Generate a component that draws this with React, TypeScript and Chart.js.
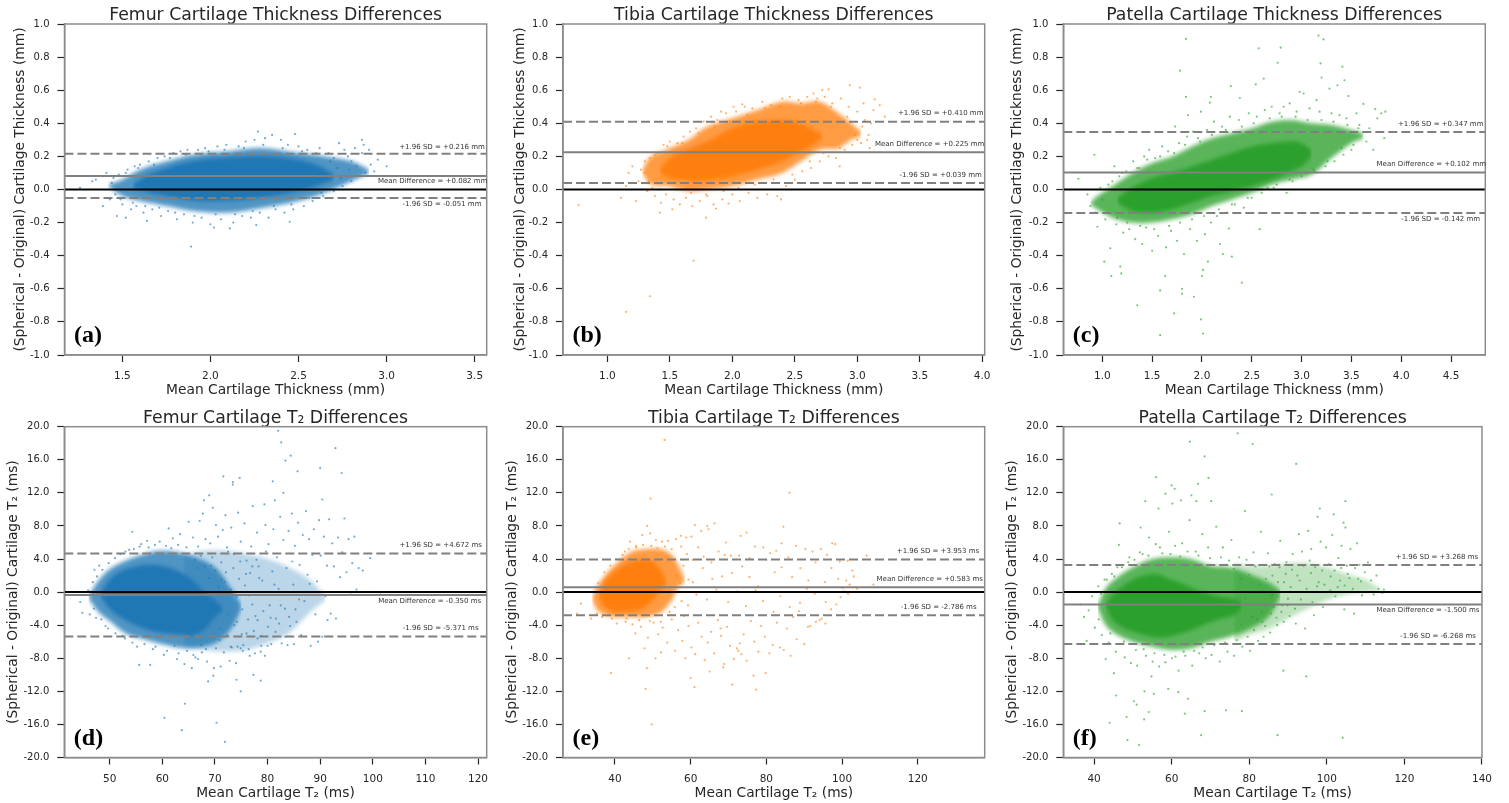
import React, { useEffect, useRef } from "react";
import { Chart, registerables } from "chart.js";

Chart.register(...registerables);

const BLUE = "31,119,180";
const ORANGE = "255,127,14";
const GREEN = "44,160,44";

const thicknessYTickValues = [-1, -0.8, -0.6, -0.4, -0.2, 0, 0.2, 0.4, 0.6, 0.8, 1];
const t2YTickValues = [-20, -16, -12, -8, -4, 0, 4, 8, 12, 16, 20];
const femurThickXTicks = [1.5, 2, 2.5, 3, 3.5];
const tibiaThickXTicks = [1, 1.5, 2, 2.5, 3, 3.5, 4];
const patellaThickXTicks = [1, 1.5, 2, 2.5, 3, 3.5, 4, 4.5];
const femurT2XTicks = [50, 60, 70, 80, 90, 100, 110, 120];
const tibiaT2XTicks = [40, 60, 80, 100, 120];
const patellaT2XTicks = [40, 60, 80, 100, 120, 140];

// ---------- (a) Femur thickness ----------
const femurThickCoreX = [1.56, 1.65, 1.75, 1.85, 1.95, 2.05, 2.2, 2.35, 2.5, 2.6, 2.7];
const femurThickCoreTop = [0.03, 0.09, 0.13, 0.16, 0.18, 0.19, 0.2, 0.2, 0.18, 0.15, 0.09];
const femurThickCoreBottom = [0.01, -0.02, -0.04, -0.06, -0.07, -0.07, -0.06, -0.04, -0.01, 0.02, 0.06];
const femurThickHaloX = [1.42, 1.5, 1.6, 1.75, 1.9, 2.1, 2.3, 2.5, 2.65, 2.8, 2.9];
const femurThickHaloTop = [0.03, 0.06, 0.12, 0.17, 0.21, 0.23, 0.25, 0.22, 0.2, 0.17, 0.12];
const femurThickHaloBottom = [0.02, -0.04, -0.07, -0.1, -0.13, -0.14, -0.11, -0.07, -0.02, 0.05, 0.1];
const femurThickPoints = [
  [1.26,.01],[1.33,.05],[1.35,.06],[1.39,.08],[1.39,-.10],[1.47,-.16],[1.52,-.17],[1.64,-.19],[1.89,-.345],[2.27,.35],[2.48,.335],[2.86,.30],[3.0,.14],[2.95,.18],[2.02,-.23],[2.11,-.235],[2.26,-.215],[2.45,-.195],
  [1.41,.10],[1.44,.04],[1.46,-.03],[1.43,-.06],[1.48,.09],[1.5,-.09],[1.53,.12],[1.55,-.12],[1.57,.14],[1.58,-.1],[1.6,.15],[1.62,-.14],[1.65,.17],[1.67,-.12],[1.7,.19],[1.72,-.16],[1.74,.2],[1.76,-.13],[1.79,.22],[1.81,-.18],[1.83,.23],[1.85,-.15],[1.87,.24],[1.9,-.2],[1.93,.24],[1.95,-.17],[1.97,.25],[2.0,-.21],[2.04,.26],[2.06,-.18],[2.09,.27],[2.13,-.2],[2.16,.26],[2.18,-.16],[2.2,.29],[2.23,-.17],[2.25,.3],[2.28,-.14],[2.31,.31],[2.33,-.17],[2.35,.33],[2.37,-.12],[2.4,.3],[2.42,-.14],[2.44,.27],[2.47,-.12],[2.5,.26],[2.53,-.1],[2.55,.24],[2.58,-.07],[2.62,.25],[2.64,-.04],[2.67,.22],[2.7,-.01],[2.73,.28],[2.75,.02],[2.78,.2],[2.8,.05],[2.82,.25],[2.84,.08],[2.87,.27],[2.88,.1],[2.91,.15],[2.93,.11],[2.76,.24],[2.68,.17],[2.72,.13],[2.86,.22],[2.8,.17],[2.9,.24],
  [1.45,.07],[1.49,-.06],[1.52,.1],[1.56,-.08],[1.59,.13],[1.63,-.1],[1.68,.15],[1.71,-.11],[1.77,.19],[1.8,-.14],[1.86,.21],[1.91,-.16],[1.99,.23],[2.03,-.15],[2.08,.24],[2.14,-.15],[2.19,.25],[2.24,-.13],[2.3,.27],[2.36,-.1],[2.41,.25],[2.46,-.09],[2.52,.23],[2.56,-.05],[2.6,.22],[2.63,-.02],[2.7,.19],[2.74,.07],[2.79,.12],[2.83,.14]
];

// ---------- (b) Tibia thickness ----------
const tibiaThickCoreX = [1.42, 1.5, 1.6, 1.7, 1.85, 2.0, 2.2, 2.4, 2.5, 2.6, 2.72];
const tibiaThickCoreTop = [0.12, 0.19, 0.23, 0.26, 0.31, 0.37, 0.41, 0.42, 0.41, 0.38, 0.33];
const tibiaThickCoreBottom = [0.1, 0.07, 0.06, 0.05, 0.06, 0.08, 0.12, 0.17, 0.21, 0.25, 0.31];
const tibiaThickHaloX = [1.28, 1.35, 1.5, 1.65, 1.8, 2.0, 2.2, 2.4, 2.55, 2.7, 2.85, 2.95, 3.03];
const tibiaThickHaloTop = [0.12, 0.2, 0.25, 0.3, 0.38, 0.43, 0.48, 0.53, 0.52, 0.53, 0.46, 0.4, 0.35];
const tibiaThickHaloBottom = [0.1, 0.03, 0.02, -0.01, 0, 0.02, 0.06, 0.1, 0.17, 0.24, 0.25, 0.3, 0.32];
const tibiaThickPoints = [
  [.77,-.095],[1.15,-.74],[1.34,-.645],[1.69,-.43],[1.79,-.17],[1.11,-.05],[1.23,-.07],[1.15,.02],[1.17,.1],[1.2,.14],[1.42,-.14],[1.52,-.12],[2.94,.63],[3.02,.615],[3.14,.545],[3.18,.51],[3.22,.44],[3.1,.25],[2.86,.14],[2.77,.605],[2.65,.58],[2.72,.6],[2.01,.5],[2.08,.515],[1.91,.47],[2.39,-.06],[1.97,-.085],[1.87,-.115],
  [1.25,.05],[1.27,.12],[1.3,.17],[1.32,-.01],[1.34,.19],[1.36,.01],[1.38,-.04],[1.4,.22],[1.43,-.08],[1.45,.27],[1.47,-.03],[1.5,.29],[1.53,-.06],[1.56,.28],[1.58,-.09],[1.61,.32],[1.63,-.05],[1.66,.35],[1.68,-.1],[1.71,.37],[1.74,-.07],[1.77,.41],[1.8,-.04],[1.83,.44],[1.85,-.09],[1.88,.42],[1.92,-.06],[1.95,.46],[2.0,-.03],[2.03,.47],[2.06,-.07],[2.1,.5],[2.13,-.02],[2.16,.49],[2.2,-.05],[2.24,.53],[2.28,-.03],[2.31,.51],[2.36,-.04],[2.4,.55],[2.43,.02],[2.46,.56],[2.5,.06],[2.53,.54],[2.56,.11],[2.6,.56],[2.63,.13],[2.67,.53],[2.7,.17],[2.74,.56],[2.77,.2],[2.8,.52],[2.83,.19],[2.87,.55],[2.9,.24],[2.93,.5],[2.96,.27],[3.0,.47],[3.03,.28],[3.06,.42],[3.09,.33],[3.11,.4],[3.13,.48],[2.98,.33],[3.05,.52],
  [1.3,.1],[1.33,.05],[1.38,.21],[1.42,.0],[1.48,.26],[1.55,.0],[1.6,.28],[1.67,-.02],[1.73,.34],[1.79,-.03],[1.86,.38],[1.93,-.01],[1.98,.41],[2.05,.01],[2.12,.45],[2.18,.03],[2.26,.49],[2.33,.06],[2.38,.5],[2.48,.09],[2.55,.52],[2.62,.17],[2.68,.55],[2.73,.22],[2.79,.5],[2.86,.25],[2.92,.44],[3.0,.3],[3.04,.38],[3.08,.3]
];

// ---------- (c) Patella thickness ----------
const patellaThickCoreX = [1.15, 1.3, 1.5, 1.7, 1.9, 2.1, 2.3, 2.5, 2.7, 2.9, 3.0, 3.1];
const patellaThickCoreTop = [-0.05, 0.01, 0.07, 0.1, 0.14, 0.18, 0.22, 0.26, 0.28, 0.29, 0.28, 0.24];
const patellaThickCoreBottom = [-0.08, -0.13, -0.14, -0.12, -0.08, -0.04, -0.01, 0.02, 0.06, 0.11, 0.14, 0.2];
const patellaThickHaloX = [0.88, 0.95, 1.1, 1.3, 1.5, 1.7, 1.9, 2.1, 2.3, 2.5, 2.7, 2.9, 3.1, 3.3, 3.5, 3.62];
const patellaThickHaloTop = [-0.08, -0.04, 0.02, 0.1, 0.16, 0.2, 0.26, 0.31, 0.34, 0.37, 0.41, 0.42, 0.4, 0.39, 0.36, 0.34];
const patellaThickHaloBottom = [-0.09, -0.12, -0.17, -0.2, -0.2, -0.18, -0.15, -0.1, -0.06, -0.02, 0.03, 0.06, 0.09, 0.19, 0.28, 0.31];
const patellaThickPoints = [
  [1.84,.91],[3.17,.93],[3.22,.907],[2.57,.853],[2.79,.857],[2.76,.766],[3.19,.762],[3.41,.742],[2.62,.67],[3.2,.676],[3.43,.66],[1.78,.718],[2.29,.625],[1.84,.56],[2.09,.56],[2.08,.525],[2.54,.635],[2.38,.553],[1.99,.47],[1.86,.45],[.92,.21],[.76,.065],[.95,-.225],[1.08,-.355],[1.02,-.436],[1.09,-.523],[1.19,-.507],[1.18,-.466],[1.35,-.7],[1.72,-.748],[1.58,-.88],[1.99,-.785],[2.01,-.87],[1.58,-.61],[1.8,-.6],[1.8,-.63],[1.92,-.648],[1.63,-.523],[2.4,-.563],[2,-.523],[2.01,-.486],[2.06,-.436],[2.21,-.39],[2.3,-.406],[2.18,-.33],[2.27,-.236],[2.58,-.24],[3.84,.47],[3.74,.486],[3.62,.517],[3.47,.565],[3.83,.31],
  [.85,-.03],[.88,-.1],[.93,-.14],[.98,.01],[1.03,-.18],[1.06,.03],[1.12,.14],[1.14,-.21],[1.17,.08],[1.21,-.26],[1.24,.11],[1.27,-.24],[1.31,.17],[1.33,-.3],[1.37,.13],[1.4,-.33],[1.42,.2],[1.44,-.23],[1.47,.24],[1.5,-.37],[1.53,.19],[1.56,-.28],[1.6,.26],[1.64,-.35],[1.66,.23],[1.69,-.25],[1.73,.38],[1.75,-.31],[1.77,.28],[1.82,-.39],[1.85,.32],[1.88,-.24],[1.91,.35],[1.95,-.31],[1.98,.29],[2.03,-.27],[2.05,.36],[2.09,-.2],[2.12,.41],[2.15,-.16],[2.2,.38],[2.25,-.14],[2.28,.44],[2.33,-.09],[2.37,.42],[2.42,-.11],[2.47,.46],[2.5,-.05],[2.55,.44],[2.6,-.02],[2.63,.48],[2.66,.01],[2.7,.5],[2.75,.03],[2.78,.46],[2.82,.5],[2.85,-.02],[2.88,.52],[2.91,.05],[2.95,.47],[2.98,.59],[3.02,.58],[3.05,.1],[3.08,.49],[3.12,.12],[3.15,.54],[3.18,.47],[3.24,.14],[3.28,.61],[3.3,.46],[3.33,.17],[3.36,.63],[3.38,.45],[3.42,.21],[3.45,.43],[3.5,.24],[3.55,.46],[3.58,.39],[3.65,.29],[3.68,.37],[3.72,.24],[3.76,.43],[3.8,.46],
  [1.0,-.06],[1.05,-.14],[1.1,.05],[1.15,-.17],[1.2,.1],[1.25,-.2],[1.35,.13],[1.38,-.22],[1.45,.18],[1.52,-.24],[1.58,.2],[1.67,-.22],[1.72,.22],[1.78,-.2],[1.83,.27],[1.9,-.18],[1.96,.31],[2.02,-.16],[2.1,.33],[2.17,-.12],[2.24,.36],[2.3,-.09],[2.4,.38],[2.46,-.05],[2.52,.4],[2.6,0],[2.68,.43],[2.72,.01],[2.8,.44],[2.88,.06],[2.94,.44],[3.0,.08],[3.06,.42],[3.13,.11],[3.2,.42],[3.26,.17],[3.32,.41],[3.4,.25],[3.46,.39],[3.52,.27],[3.57,.37]
];

// ---------- (d) Femur T2 ----------
const femurT2CoreX = [48.2, 50, 52, 55, 58, 61, 64, 66, 68, 70, 71.5];
const femurT2CoreTop = [-0.2, 1.5, 2.5, 3.1, 3.3, 3, 2.2, 1.3, 0, -1, -1.9];
const femurT2CoreBottom = [-0.5, -2, -3, -4, -4.7, -5, -5.2, -5.2, -4.5, -3, -2.2];
const femurT2HaloX = [46, 48, 50, 53, 56, 60, 65, 70, 73, 75];
const femurT2HaloTop = [-0.4, 1.5, 2.8, 3.8, 4.5, 5, 4.5, 3, 0.5, -1.5];
const femurT2HaloBottom = [-0.8, -2.5, -3.5, -5, -5.6, -6.3, -6.8, -6.2, -4.5, -2];
const femurT2TailX = [64, 68, 72, 76, 80, 84, 88, 91];
const femurT2TailTop = [4.5, 5, 5, 4.6, 4, 3, 1.5, -0.5];
const femurT2TailBottom = [-6.5, -7, -7.2, -7, -6.2, -5, -2.5, -1];
const femurT2Points = [
  [82,19.5],[82.6,18.1],[84.4,16.5],[83.4,15.9],[92.9,17.4],[85.7,14.6],[90,15],[94.1,14.4],[71.6,14],[74.7,13.8],[73.4,13.3],[73.4,13],[81,13.4],[83,12],[81.4,11.1],[90.4,11.2],[68.9,11.7],[67.9,11.1],[69.6,10.2],[64.3,-13.5],[60.4,-15.2],[70.3,-15.8],[63.7,-16.7],[71.9,-18.1],[74.9,-12],[74.1,-10.6],[78.7,-10.7],[77.3,-10],[68.7,-10.8],[69.7,-10.1],[54.3,7.3],[55.6,-8.8],[57.7,-8.8],[65.6,-9.2],
  [44.4,-1.2],[44.8,-2.5],[45.9,.2],[46.2,-2.7],[47.1,2.7],[47.4,-3.1],[48,3.2],[49.2,-4.1],[51,4.1],[52.4,-5.3],[53.7,5.1],[55.2,-6.6],[56,5.8],[57.1,6.2],[58.2,-6.9],[59.5,6.1],[60.3,-7.6],[61.2,7.7],[62,6.5],[62.8,-8.1],[63.4,7],[64.2,-8.7],[65,8.5],[65.8,6.6],[66.3,-7.9],[67.1,8.6],[67.7,9.5],[68.2,6.4],[68.5,-8.4],[69.1,5.9],[69.8,-9.2],[70.2,8.1],[70.6,6.7],[71.1,-9],[71.5,7.5],[72,9.3],[72.3,5.4],[72.8,-8.3],[73.1,7.8],[73.6,4.6],[74,-8.6],[74.4,9.6],[74.9,6.1],[75.3,-7.1],[75.6,8.3],[76,3.8],[76.4,-6.9],[76.9,5.5],[77.2,10.4],[77.6,-7.4],[78,7.2],[78.3,3.1],[78.7,-7.2],[79,1.4],[79.4,10.6],[79.6,8.1],[80,-6.5],[80.2,5.8],[80.6,-3.1],[80.9,2.5],[81.1,7.6],[81.5,-4.8],[81.8,4.2],[82.1,.4],[82.4,9.1],[82.7,-6.2],[83,6.3],[83.3,-2],[83.6,2.9],[84,7.4],[84.3,-4.1],[84.6,9.5],[84.9,.9],[85.2,5.6],[85.5,-3.6],[85.8,8.4],[86.1,3.3],[86.4,-5.2],[86.7,6.9],[87,-1.1],[87.3,9.8],[87.6,2.1],[87.9,6.4],[88.2,-6.5],[88.5,4.5],[88.8,7.6],[89.1,-2.7],[89.4,1.3],[89.8,8.7],[90.1,4.4],[90.4,-5.4],[90.7,6.7],[91,-.5],[91.3,3.2],[91.7,8.8],[92,-2.6],[92.3,5.9],[92.6,3.1],[93,-3.2],[93.4,6.6],[93.8,1.8],[94.2,4.8],[94.6,8.9],[95,2.4],[95.4,6.4],[95.8,-.3],[96.1,3.5],[96.5,6.7],[96.9,.3],[97.3,2.9],[98.1,2.6],[99.5,4.1],
  [66.2,3.9],[67.4,-6.4],[69.3,3.2],[70.9,-5.8],[72.1,2.4],[73.2,-6.7],[74.6,1.6],[75.1,-5.1],[76.3,-3.3],[77.1,-1.5],[78.1,-5.6],[79.2,-2.3],[75.7,.8],[74.2,-3.6],[72.6,-2.7],[71.3,1.5],[77.9,3.9],[76.7,2.3],[80.4,-1.6],[79.7,4.9],[83.8,-6.4],[86,-.9],[82.2,-3.8],[88,1],[84.7,3.7],[81.3,.9],[89.6,-6],[91.4,-3.4],[85,-6.3],[78.9,-5.3],
  [66.7,2.9],[67.3,4.4],[68.1,3.1],[68.9,1.7],[69.5,4.2],[70.1,2.6],[70.7,.6],[71.2,3.6],[71.8,1.2],[72.5,4.9],[73,.3],[73.5,2.9],[74.1,-.6],[74.8,3.7],[75.2,-2.1],[75.9,2.2],[76.5,-.4],[77.1,3.1],[77.7,-2.9],[78.4,1.7],[69.4,-5.4],[70.2,-6.8],[71,-4.4],[71.7,-7.3],[72.3,-5.2],[73,-6.6],[73.7,-4],[74.3,-6.6],[74.9,-6.8],[75.4,-6.4],[76,-5],[76.6,-7.7],[77.4,-4.7],[78.1,-3.4],[78.8,-6.5],[79.5,-7.7],[80.1,-4.2],[80.7,-6.3],[81.6,-3.2],[82.5,-1.6],[83.4,-5.4],[84.1,-3],[85.3,-2.1],[60.9,-7.1],[62.3,-6.5],[63.1,-7.4],[64.7,-7.1],[65.9,-7.6],[66.8,-8.1],[67.5,-7.3],[68.3,-6.9],[52,4.6],[53,4.9],[54.6,5.2],[55.7,5.5],[57.4,5.4],[58.6,5.7],[60.7,5.6],[61.7,5.3],[63,5.7],[64.6,5.4],[66.8,5.5],[47.6,1.9],[48.6,2.7],[49.8,3.5],[46.8,1.2],[47,-2],[48.4,-3.3],[49.7,-4.4],[51.1,-5],[52.9,-5.6],[54.3,-6.1],[56.6,-6.3],[58.7,-6.6]
];

// ---------- (e) Tibia T2 ----------
const tibiaT2CoreX = [35.8, 37, 38, 40, 42, 44, 46, 48, 50, 52, 53.5];
const tibiaT2CoreTop = [-0.3, 1, 1.7, 2.5, 3.2, 3.6, 3.9, 3.9, 3.7, 2.7, 1.5];
const tibiaT2CoreBottom = [-0.7, -1.7, -2, -2.4, -2.4, -2.3, -2.2, -1.8, -1, 0.2, 0.9];
const tibiaT2HaloX = [34, 35, 37, 40, 44, 48, 52, 55, 57, 58.5];
const tibiaT2HaloTop = [-0.6, 0.5, 1.8, 3.3, 4.8, 5.2, 5.2, 4.5, 3, 1.5];
const tibiaT2HaloBottom = [-1, -2, -2.7, -3, -3, -3, -2.5, -1, 0.8, 1.2];
const tibiaT2Points = [
  [53.1,18.4],[49.4,11.3],[86.1,12],[49.7,-16],[48.1,-11.7],[38.9,-9.8],[48.4,-9.2],[43.7,-8],[50.7,-8],[31,-1.4],[30,-2.6],[33.7,-3.2],[84.5,7.9],[66.3,8.3],[61.1,8.1],[64.4,8],[74.8,7.2],[73.2,6.8],[69.3,6],[84,5.9],[97.4,5.9],[106.5,4.4],[108.3,.9],[105.6,0],[61,-11.5],[60,-10.4],[71,-11.2],[77.3,-11.8],[79.8,-9.8],[76.6,-10.1],[65,-9.6],[68.6,-9.1],[90,-6.3],[88,-5.7],[86.4,-7.7],
  [44,6.1],[47.2,6.9],[48.5,8],[49.3,7.1],[45.5,5.6],[42.6,4.9],[50.8,6.3],[52.4,6.1],[54,6.2],[56.1,6.4],[57.4,6.8],[58.8,6.6],[60.2,6.7],[62,5.4],[59,4.6],[57.5,5.5],[60.5,3.9],[63.4,4.3],[65.5,3.6],[62.8,7.4],[64.7,7.6],[67.4,4.9],[69,4.5],[70.6,4.4],[72.8,4.4],[75.6,4.1],[77,5.5],[79.2,5.4],[81,4.7],[82.6,5],[85.8,4.2],[87.8,5.6],[90.3,5.2],[92.2,4.9],[94.4,5.2],[96,4.5],[98.2,5.8],[99.4,3.7],[101.5,3.8],[102.7,2.6],[60.6,1.2],[63.2,2.9],[65.7,1.6],[68.3,1.9],[70.9,2.3],[73.6,3.1],[75.5,1.8],[77.8,.7],[80,3.9],[82.2,2.4],[84,3],[86.8,1.8],[89,2.9],[91.1,1.4],[93,3.6],[95.5,1.2],[97.2,2.9],[99,1.6],[100.2,.5],[101.1,1.4],[102,.9],[103.1,1.9],[104,.4],[101.6,-.2],[100.6,.1],[99.6,-.6],[98.5,-1.5],[97.1,-2.1],[95.7,-1.2],[94.1,-3.4],[92.8,-.2],[91.6,-4.1],[90.7,.4],[88.9,-1.3],[86.2,-1.8],[83.7,-.5],[81.9,-2.4],[79.1,-1.1],[77.2,.2],[74.6,-1.7],[72.4,.1],[69.9,-1.2],[66.8,.3],[64.3,-.9],[61.5,-.3],[59.3,-1.6],[58.2,-2.9],
  [50.2,-3.7],[51.4,-5.1],[52.6,-4.3],[53.8,-6.1],[55,-3.3],[55.9,-7.1],[56.7,-4.6],[57.8,-5.9],[58.6,-8],[59.4,-4.1],[60.2,-6.7],[61.2,-7.5],[62,-3.7],[62.9,-5.4],[63.7,-8.2],[64.5,-6.1],[65.4,-4.8],[66.2,-7.4],[67.2,-3.4],[68,-5.3],[68.8,-8.7],[69.6,-4.2],[70.4,-6.5],[71.4,-8.1],[72.2,-6.8],[73.4,-7.5],[74,-5.1],[74.8,-8.3],[75.9,-3.5],[76.8,-6],[77.9,-7.2],[78.6,-4.1],[79.6,-5.4],[80.8,-7.4],[81.7,-6.4],[82.8,-3.7],[83.6,-6.7],[84.6,-7],[85.4,-4.4],[87.1,-3],[88.6,-2.3],[91,-4.2],[93.1,-3.6],[94.6,-3.2],[95.6,-3.8],[73,-6.2],[72.6,-7.1],[67.9,-4.4],[48.7,-5.5],[46.9,-4.2],[45.4,-5],[44.6,-3.9],[42.8,-3.6],[40.5,-3.8],[47.8,-6.8],[52.2,-7.3],
  [56.3,2],[57.2,1.1],[58.1,3.2],[59.4,1.5],[52.1,-3.6],[54.4,-2.4],[55.8,-1.8],[57.6,-1.1],[49.2,-3.5],[46.4,-3.4],[43.1,-3.2],[39.2,-3.2],[36.6,-3],[35.2,-2.6],[35.6,1.1],[37.2,2.4],[38.8,3.2],[40.4,4],[42,4.5],[43.6,5.2],[45.6,5.4],[47.4,5.7],[49.6,5.6],[51.2,5.3],[53.2,5.5],[55,5.2]
];

// ---------- (f) Patella T2 ----------
const patellaT2CoreX = [43, 45, 47, 50, 53, 56, 60, 64, 68, 72, 76, 78];
const patellaT2CoreTop = [-1.4, -0.2, 0.6, 1.5, 2, 2.2, 1.5, 0.8, 0, -0.5, -0.8, -1.2];
const patellaT2CoreBottom = [-1.8, -3.5, -4.2, -4.8, -5.2, -5.5, -5.3, -4.8, -4, -3.3, -2.8, -2];
const patellaT2HaloX = [41, 43, 46, 50, 55, 60, 65, 70, 75, 80, 85, 88];
const patellaT2HaloTop = [-1.6, 0.5, 1.8, 3, 4, 4.2, 4, 3.2, 3, 2.2, 1.2, 0.2];
const patellaT2HaloBottom = [-2, -4, -5.2, -6, -6.6, -7, -6.8, -6, -5.4, -4.5, -3, -0.6];
const patellaT2TailX = [76, 80, 85, 90, 95, 100, 105, 110, 114];
const patellaT2TailTop = [3.5, 3.2, 3.2, 3.5, 3.5, 3, 2.2, 1.5, 0.3];
const patellaT2TailBottom = [-6, -5.2, -4.5, -3.2, -2, -1, -0.3, 0, 0.1];
const patellaT2Points = [
  [65.2,20],[77,19.2],[64.7,18.2],[80.9,17.9],[68.5,16.4],[92.1,15.5],[56,13.9],[69.5,13.8],[66.8,13.1],[60,12.9],[60.8,12.5],[58.4,11.9],[65.1,11.7],[85.8,11.8],[62.4,11.1],[53.2,11],[60.2,10.7],[66.4,11],[70.2,11],[104.8,11],[56.6,10.1],[78.9,9.8],[98.2,10.1],[101.8,9.4],[46.6,8.3],[52,7.8],[104.8,7.8],[104.3,8.4],
  [43,-8.1],[45.1,-9.8],[45.7,-12.5],[44,-15.8],[48.6,-17.9],[51.6,-18.5],[48.4,-15.1],[50.3,-13.2],[51,-13.6],[52.9,-15.4],[54.1,-14.5],[63.4,-14.7],[68.5,-14.4],[74,-14.3],[78.1,-14.4],[67.6,-17.3],[87.3,-17.3],[104.1,-17.6],[94.7,-10.2],[88.8,-9.5],[64.2,-12.9],[61.7,-12.1],[59.1,-11.7],[55.4,-12.3],[53,-12],[54.8,-10.2],
  [36.5,-1.5],[37.4,-3],[38.6,-2.2],[38.1,-5.9],[39.5,-.5],[40.2,-4.3],[41.1,.7],[42,-5.2],[42.7,1.5],[43.8,-6.1],[44.6,2.2],[45.6,-7.2],[46.4,5.7],[47.2,3],[47.9,-7.9],[48.8,3.6],[49.5,-8.6],[50.4,3.9],[51.1,-8.9],[52.5,4.6],[53.4,-7.7],[54.2,6.6],[55.1,-8.4],[55.9,5.8],[56.8,-9],[57.6,4.7],[58.4,-8.5],[59.3,7.3],[60.1,-8],[60.9,5.6],[61.8,-9.5],[62.7,5.9],[63.5,-7.7],[64.6,8.7],[65.3,-8.9],[66.2,4.9],[67.1,-7.4],[67.9,7],[68.8,-8],[69.4,5.4],[70.3,-7.6],[71.5,7.9],[72.4,-8.4],[73.2,5.4],[74.4,-7.2],[75.4,6.3],[76.1,-7.7],[77.4,4.2],[78.2,-6.6],[79.3,3.9],[80.2,-7.1],[81.1,4.8],[82.3,-5.9],[83,7.3],[83.7,-5.4],[84.8,4.7],[85.4,-4.9],[86.6,3.4],[87.2,-4],[88,6.2],[88.9,-3.6],[89.6,3.6],[90.4,-2.9],[91.2,4.6],[92,-3.8],[92.8,7],[93.6,4.9],[94.4,-4.4],[95.2,7.4],[96,5.2],[96.7,-2.8],[97.6,9.1],[98.4,6.1],[99,-1.8],[99.8,5.4],[100.6,3.4],[101.4,6.9],[102.2,-.5],[103,4.1],[103.8,5.6],[104.5,-2.1],[105.2,3.2],[106.1,5.2],[107,-2.6],[107.8,5.9],[108.4,3.3],[109.1,-.4],[109.8,2.4],[110.6,3.6],[111.4,1.4],[112.1,-.3],[112.8,2],[113.3,.4],[114.3,-.1],[114.7,.3],[95.6,3.8],[97.9,1.2],[101,1.9],[103.4,1.4],[105.8,1.7],[108.1,1.6],[93,1.4],[90.7,.6],[86.3,-1.8],[83.2,-2.4],[80.8,-3],[86,2],[89,1.2],
  [76,2.8],[77.8,1.6],[79,-.7],[80,2.1],[81.6,3.1],[82.6,.9],[83.4,-3.6],[84.3,1.6],[85.2,3.1],[85.9,-.4],[87.4,1.2],[87.8,3],[88.5,-1.6],[89.4,2.2],[90,-.8],[91,2.7],[91.8,-2],[92.4,2],[93.3,-.9],[94,3.2],[94.8,.4],[95.9,2.3],[96.3,-1.2],[97,3],[97.5,.7],[98.8,2.6],[99.4,.9],[100.1,3.3],[100.9,.2],[102,2.6],[102.8,.6],[103.7,2.9],[104.6,.8],[105.4,2.2],[106.7,.4],[107.3,2.9],[108.8,1.3],[78,-3.9],[79.6,-5.4],[81.2,-4.6],[82,-3.3],[84.1,-4.1],[85.6,-2.6],[87,-3.1],[88.3,-2.4],[89.9,-1.6],[46,3],[47.7,-6],[49.1,4.2],[50.8,-7],[51.8,4.8],[52.8,-6.9],[54,4.4],[55.6,-7.4],[57,5.4],[58.1,-7.6],[59.7,4.6],[61,-7.8],[62.2,4.3],[63.1,-7.2],[64.1,4.9],[65.8,-7.1],[66.9,4.4],[68,-6.7],[69.9,4.1],[71,-6.4],[72.7,4.2],[73.8,-6.1],[74.8,3.8],[76.8,-5.8],[41.8,-.2],[41.2,-3.3],[43.3,1.5],[44.2,-5],[45.2,1.9]
];

const meanLabel = "Mean Difference = ";
const upperLabel = "+1.96 SD = ";
const lowerLabel = "-1.96 SD = ";
const thicknessYTitle = "(Spherical - Original) Cartilage Thickness (mm)";
const t2YTitle = "(Spherical - Original) Cartilage T₂ (ms)";
const thicknessXTitle = "Mean Cartilage Thickness (mm)";
const t2XTitle = "Mean Cartilage T₂ (ms)";
const noValues: number[] = [];

const panels = [
  { left: 0, top: 0, plotL: 64.5, plotR: 486.7, plotT: 24, plotB: 355, yT: 20, title: "Femur Cartilage Thickness Differences", xt: thicknessXTitle, yt: thicknessYTitle, tag: "(a)", rgb: BLUE, unit: "mm",
    xMin: 1.172, xMax: 3.568, xTicks: femurThickXTicks, yTicks: thicknessYTickValues, xDec: 1, yMax: 1, mean: 0.082, up: 0.216, low: -0.051, meanS: "+0.082", upS: "+0.216", lowS: "-0.051",
    upO: [-44.7, -7], meanO: [-54, 5.7], lowO: [-44.7, 6],
    coreX: femurThickCoreX, coreTop: femurThickCoreTop, coreBottom: femurThickCoreBottom, haloX: femurThickHaloX, haloTop: femurThickHaloTop, haloBottom: femurThickHaloBottom, tailX: noValues, tailTop: noValues, tailBottom: noValues, pts: femurThickPoints },
  { left: 500, top: 0, plotL: 563, plotR: 984.7, plotT: 24, plotB: 355, yT: 20, title: "Tibia Cartilage Thickness Differences", xt: thicknessXTitle, yt: thicknessYTitle, tag: "(b)", rgb: ORANGE, unit: "mm",
    xMin: 0.645, xMax: 4.02, xTicks: tibiaThickXTicks, yTicks: thicknessYTickValues, xDec: 1, yMax: 1, mean: 0.225, up: 0.41, low: 0.039, meanS: "+0.225", upS: "+0.410", lowS: "+0.039",
    upO: [-44, -8], meanO: [-55, -8], lowO: [-44, -8],
    coreX: tibiaThickCoreX, coreTop: tibiaThickCoreTop, coreBottom: tibiaThickCoreBottom, haloX: tibiaThickHaloX, haloTop: tibiaThickHaloTop, haloBottom: tibiaThickHaloBottom, tailX: noValues, tailTop: noValues, tailBottom: noValues, pts: tibiaThickPoints },
  { left: 1000, top: 0, plotL: 1063.3, plotR: 1485.3, plotT: 24, plotB: 355, yT: 17, title: "Patella Cartilage Thickness Differences", xt: thicknessXTitle, yt: thicknessYTitle, tag: "(c)", rgb: GREEN, unit: "mm",
    xMin: 0.608, xMax: 4.844, xTicks: patellaThickXTicks, yTicks: thicknessYTickValues, xDec: 1, yMax: 1, mean: 0.102, up: 0.347, low: -0.142, meanS: "+0.102", upS: "+0.347", lowS: "-0.142",
    upO: [-44.6, -8], meanO: [-54, -8], lowO: [-44.6, 6],
    coreX: patellaThickCoreX, coreTop: patellaThickCoreTop, coreBottom: patellaThickCoreBottom, haloX: patellaThickHaloX, haloTop: patellaThickHaloTop, haloBottom: patellaThickHaloBottom, tailX: noValues, tailTop: noValues, tailBottom: noValues, pts: patellaThickPoints },
  { left: 0, top: 403, plotL: 64.3, plotR: 486.7, plotT: 426.7, plotB: 757.5, yT: 13.5, title: "Femur Cartilage T₂ Differences", xt: t2XTitle, yt: t2YTitle, tag: "(d)", rgb: BLUE, unit: "ms",
    xMin: 41.37, xMax: 121.65, xTicks: femurT2XTicks, yTicks: t2YTickValues, xDec: 0, yMax: 20, mean: -0.35, up: 4.672, low: -5.371, meanS: "-0.350", upS: "+4.672", lowS: "-5.371",
    upO: [-46, -8], meanO: [-57, 6], lowO: [-46, -8],
    coreX: femurT2CoreX, coreTop: femurT2CoreTop, coreBottom: femurT2CoreBottom, haloX: femurT2HaloX, haloTop: femurT2HaloTop, haloBottom: femurT2HaloBottom, tailX: femurT2TailX, tailTop: femurT2TailTop, tailBottom: femurT2TailBottom, pts: femurT2Points },
  { left: 500, top: 403, plotL: 563, plotR: 984.7, plotT: 426.7, plotB: 757.5, yT: 12, title: "Tibia Cartilage T₂ Differences", xt: t2XTitle, yt: t2YTitle, tag: "(e)", rgb: ORANGE, unit: "ms",
    xMin: 26.26, xMax: 137.7, xTicks: tibiaT2XTicks, yTicks: t2YTickValues, xDec: 0, yMax: 20, mean: 0.583, up: 3.953, low: -2.786, meanS: "+0.583", upS: "+3.953", lowS: "-2.786",
    upO: [-46.7, -8], meanO: [-55, -8], lowO: [-46, -8],
    coreX: tibiaT2CoreX, coreTop: tibiaT2CoreTop, coreBottom: tibiaT2CoreBottom, haloX: tibiaT2HaloX, haloTop: tibiaT2HaloTop, haloBottom: tibiaT2HaloBottom, tailX: noValues, tailTop: noValues, tailBottom: noValues, pts: tibiaT2Points },
  { left: 1000, top: 403, plotL: 1063.3, plotR: 1485, plotT: 426.7, plotB: 757.5, yT: 12, title: "Patella Cartilage T₂ Differences", xt: t2XTitle, yt: t2YTitle, tag: "(f)", rgb: GREEN, unit: "ms",
    xMin: 32.07, xMax: 140, xTicks: patellaT2XTicks, yTicks: t2YTickValues, xDec: 0, yMax: 20, mean: -1.5, up: 3.268, low: -6.268, meanS: "-1.500", upS: "+3.268", lowS: "-6.268",
    upO: [-45, -8], meanO: [-54, 6], lowO: [-44, -8],
    coreX: patellaT2CoreX, coreTop: patellaT2CoreTop, coreBottom: patellaT2CoreBottom, haloX: patellaT2HaloX, haloTop: patellaT2HaloTop, haloBottom: patellaT2HaloBottom, tailX: patellaT2TailX, tailTop: patellaT2TailTop, tailBottom: patellaT2TailBottom, pts: patellaT2Points },
];

const TXT = "#262626";
const SANS = "'DejaVu Sans'";
const CW = 500;
const CH = 400;

function band(xs: number[], ys: number[], color: string, fill: any, order: number) {
  return {
    type: "scatter" as const,
    data: xs.map((x, i) => ({ x, y: ys[i] })),
    showLine: true,
    borderWidth: 0,
    borderColor: "rgba(0,0,0,0)",
    backgroundColor: color,
    pointRadius: 0,
    fill,
    tension: 0.35,
    order,
  };
}

function refLine(p: any, y: number, color: string, width: number, dash: number[], order: number) {
  return {
    type: "scatter" as const,
    data: [{ x: p.xMin, y }, { x: p.xMax, y }],
    showLine: true,
    borderColor: color,
    borderWidth: width,
    borderDash: dash,
    pointRadius: 0,
    fill: false,
    order,
  };
}

function Panel({ p }: { p: any }) {
  const ref = useRef<HTMLCanvasElement | null>(null);
  useEffect(() => {
    const decorate = {
      id: "decorate",
      beforeDatasetsDraw(chart: any) {
        chart.ctx.filter = "blur(2.2px)";
      },
      afterDatasetDraw(chart: any, args: any) {
        if (args.index === 4) chart.ctx.filter = "none";
      },
      afterDatasetsDraw(chart: any) {
        const { ctx, chartArea: a, scales } = chart;
        ctx.save();
        ctx.strokeStyle = "#8c8c8c";
        ctx.lineWidth = 1.5;
        ctx.strokeRect(a.left, a.top, a.right - a.left, a.bottom - a.top);
        ctx.fillStyle = "#333333";
        ctx.font = `7px ${SANS}`;
        ctx.textAlign = "center";
        ctx.textBaseline = "middle";
        const rows: [string, number, number[]][] = [
          [`${upperLabel}${p.upS} ${p.unit}`, p.up, p.upO],
          [`${meanLabel}${p.meanS} ${p.unit}`, p.mean, p.meanO],
          [`${lowerLabel}${p.lowS} ${p.unit}`, p.low, p.lowO],
        ];
        rows.forEach(([text, v, o]) => {
          ctx.fillText(text, a.right + o[0], scales.y.getPixelForValue(v) + o[1]);
        });
        ctx.fillStyle = "#000";
        ctx.font = "bold 24px 'Liberation Serif'";
        ctx.textAlign = "left";
        ctx.fillText(p.tag, a.left + 9.5, a.bottom - 19);
        ctx.restore();
      },
    };
    const chart = new Chart(ref.current as HTMLCanvasElement, {
      type: "scatter",
      data: {
        datasets: [
          band(p.tailX, p.tailTop, `rgba(${p.rgb},0.3)`, "+1", 25),
          band(p.tailX, p.tailBottom, "rgba(0,0,0,0)", false, 25),
          band(p.haloX, p.haloTop, `rgba(${p.rgb},0.78)`, "+1", 20),
          band(p.haloX, p.haloBottom, "rgba(0,0,0,0)", false, 20),
          band(p.coreX, p.coreTop, `rgb(${p.rgb})`, "+1", 15),
          band(p.coreX, p.coreBottom, "rgba(0,0,0,0)", false, 15),
          {
            data: p.pts.map((d: number[]) => ({ x: d[0], y: d[1] })),
            backgroundColor: `rgba(${p.rgb},0.62)`,
            borderWidth: 0,
            pointRadius: 1.1,
            order: 10,
          },
          refLine(p, p.mean, "#808080", 2, [], 2),
          refLine(p, p.up, "#808080", 2, [9, 4], 2),
          refLine(p, p.low, "#808080", 2, [9, 4], 2),
          refLine(p, 0, "#000000", 2, [], 1),
        ] as any,
      },
      plugins: [decorate],
      options: {
        animation: false,
        responsive: false,
        events: [],
        layout: { padding: { left: 0, top: 0, right: CW - (p.plotR - p.left), bottom: 0 } },
        plugins: {
          legend: { display: false },
          tooltip: { enabled: false },
          title: {
            display: true,
            text: p.title,
            fullSize: false,
            color: TXT,
            font: { family: SANS, size: 17.3, weight: "normal", lineHeight: 1.2 },
            padding: { top: 5, bottom: p.plotT - p.top - 5 - 20.76 },
          },
        },
        scales: {
          x: {
            type: "linear",
            bounds: "data",
            min: p.xMin,
            max: p.xMax,
            afterBuildTicks: (s: any) => { s.ticks = p.xTicks.map((value: number) => ({ value })); },
            afterFit: (s: any) => { s.height = CH - (p.plotB - p.top); },
            grid: { drawOnChartArea: false, color: "#262626", tickLength: 7, tickWidth: 1.2 },
            border: { color: "#8c8c8c", width: 1.5 },
            ticks: {
              autoSkip: false,
              maxRotation: 0,
              color: TXT,
              padding: 8,
              font: { family: SANS, size: 10.5 },
              callback: (v: any) => Number(v).toFixed(p.xDec),
            },
            title: { display: true, text: p.xt, color: TXT, font: { family: SANS, size: 13.8, lineHeight: 1.2 }, padding: { top: 0, bottom: 1.6 } },
          },
          y: {
            type: "linear",
            bounds: "data",
            min: -p.yMax,
            max: p.yMax,
            afterBuildTicks: (s: any) => { s.ticks = p.yTicks.map((value: number) => ({ value })); },
            afterFit: (s: any) => { s.width = p.plotL - p.left; },
            grid: { drawOnChartArea: false, color: "#262626", tickLength: 7, tickWidth: 1.2 },
            border: { color: "#8c8c8c", width: 1.5 },
            ticks: {
              autoSkip: false,
              color: TXT,
              padding: 8,
              font: { family: SANS, size: 10 },
              callback: (v: any) => Number(v).toFixed(1),
            },
            title: { display: true, text: p.yt, color: TXT, font: { family: SANS, size: 13.8, lineHeight: 1.2 }, padding: { top: p.yT - 8.3, bottom: 0 } },
          },
        },
      } as any,
    });
    return () => chart.destroy();
  }, [p]);
  return (
    <canvas
      ref={ref}
      width={CW}
      height={CH}
      style={{ position: "absolute", left: p.left, top: p.top, width: CW, height: CH }}
    />
  );
}

export default function App() {
  return (
    <div style={{ position: "absolute", left: 0, top: 0, width: 1509, height: 803, background: "#fff", overflow: "hidden" }}>
      {panels.map((p) => <Panel key={p.tag} p={p} />)}
    </div>
  );
}
